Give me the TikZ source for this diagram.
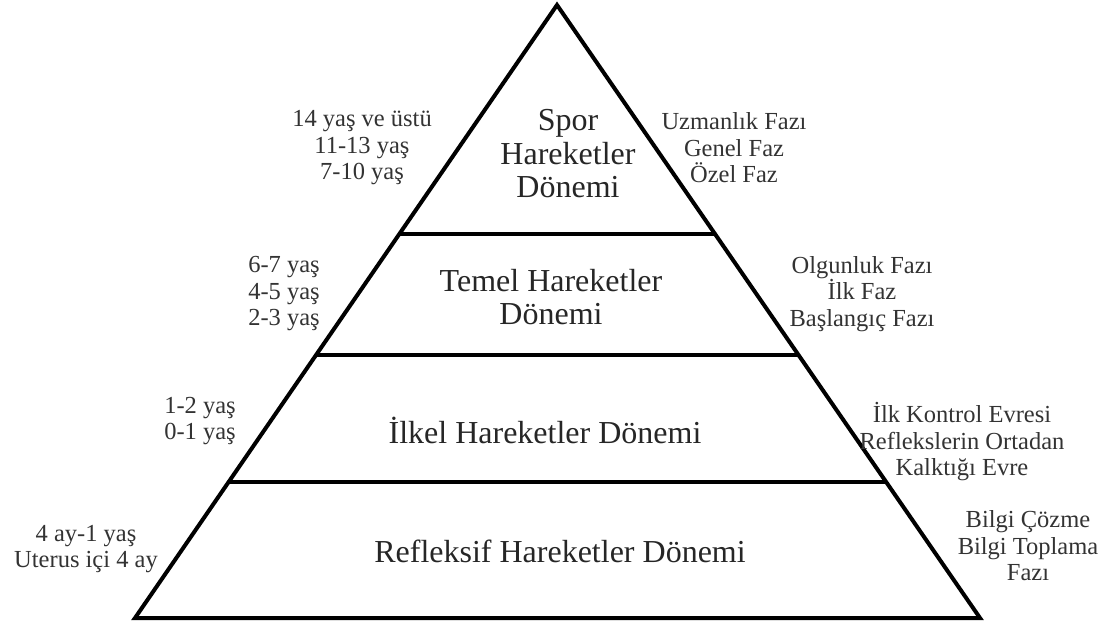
\documentclass[tikz,border=0pt]{standalone}
\usepackage{fontspec}
\setmainfont{Liberation Serif}
\usetikzlibrary{calc}
\begin{document}
\begin{tikzpicture}[x=1pt,y=-1pt,line width=4pt,
  band/.style={align=center,font=\fontsize{32}{33.5}\selectfont,text=black!85},
  side/.style={align=center,font=\fontsize{24.5}{26.5}\selectfont,text=black!80}]
  \useasboundingbox (0,0) rectangle (1103,623);

  % pyramid
  \coordinate (apex) at (557,5);
  \coordinate (bl) at (135,618);
  \coordinate (br) at (980,618);
  \draw (apex) -- (br) -- (bl) -- cycle;
  \foreach \t/\n in {0.374/1,0.571/2,0.778/3}{
    \coordinate (l\n) at ($(apex)!\t!(bl)$);
    \coordinate (r\n) at ($(apex)!\t!(br)$);
    \draw (l\n) -- (r\n);
  }

  % bands
  \node[band] (spor) at (568,154) {Spor\\Hareketler\\Dönemi};
  \node[band] (temel) at (551,297) {Temel Hareketler\\Dönemi};
  \node[band] (ilkel) at (545,430) {İlkel Hareketler Dönemi};
  \node[band] (refleks) at (560,551) {Refleksif Hareketler Dönemi};

  % ages
  \node[side] (spor age) at (362,148) {14 yaş ve üstü\\11-13 yaş\\7-10 yaş};
  \node[side] (temel age) at (284,294) {6-7 yaş\\4-5 yaş\\2-3 yaş};
  \node[side] (ilkel age) at (200,421) {1-2 yaş\\0-1 yaş};
  \node[side] (refleks age) at (86,549) {4 ay-1 yaş\\Uterus içi 4 ay};

  % phases
  \node[side] (spor faz) at (734,148) {Uzmanlık Fazı\\Genel Faz\\Özel Faz};
  \node[side] (temel faz) at (862,294) {Olgunluk Fazı\\İlk Faz\\Başlangıç Fazı};
  \node[side] (ilkel faz) at (962,442) {İlk Kontrol Evresi\\Reflekslerin Ortadan\\Kalktığı Evre};
  \node[side] (refleks faz) at (1028,546) {Bilgi Çözme\\Bilgi Toplama\\Fazı};
\end{tikzpicture}
\end{document}
